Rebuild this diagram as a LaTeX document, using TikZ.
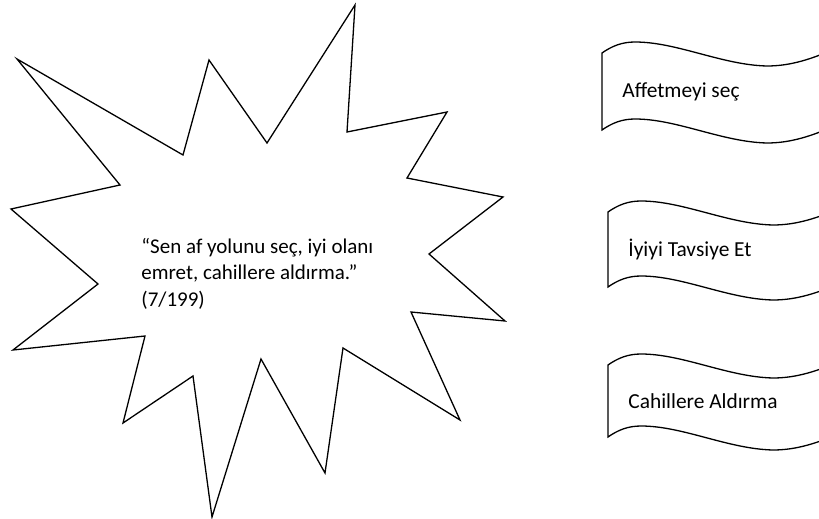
\documentclass[tikz,border=0pt]{standalone}
\usepackage{fontspec}
\setmainfont{Carlito}
\usepackage{tikz}

\begin{document}
\begin{tikzpicture}[x=0.5pt, y=-0.5pt,
    starline/.style={line width=0.65pt, line join=miter},
    bannerline/.style={line width=0.65pt},
    bannertext/.style={anchor=west, inner sep=0pt, font=\fontsize{10.7}{12.8}\selectfont}]
  % Page size (819 x 519 px, y pointing down)
  \useasboundingbox (0,0) rectangle (819,519);
  \clip (0,0) rectangle (819,519);

  % Star burst outline
  \draw[starline] (17,59) -- (183,155) -- (209,60) -- (267,143) -- (355,5)
    -- (347,132) -- (447,112) -- (407,178) -- (503,197) -- (429,254)
    -- (505,321) -- (411,312) -- (460,420) -- (343,348) -- (325,473)
    -- (261,359) -- (212,517) -- (193,376) -- (123,423) -- (145,336)
    -- (13,350) -- (98,284) -- (11,209) -- (120,185) -- cycle;

  % Quote inside the star
  \node[anchor=north west, align=left, inner sep=0pt,
        font=\fontsize{10.5}{13.2}\selectfont] (quote) at (141,238)
    {“Sen af yolunu seç, iyi olanı\\emret, cahillere aldırma.”\\(7/199)};

  % Wavy banners on the right (cut by the page edge)
  \foreach \bx/\by/\bh/\bname/\btext in {602/53/77/affet/Affetmeyi seç,
      608/212/75/tavsiye/İyiyi Tavsiye Et, 608/365/72/aldirma/Cahillere Aldırma}{
    \begin{scope}[shift={(\bx,\by)}]
      \draw[bannerline] (230,-3) .. controls (205,8) and (185,13) .. (165,13)
        .. controls (120,12) and (75,-11) .. (33,-11)
        .. controls (20,-11) and (10,-7) .. (0,0)
        -- (0,\bh)
        .. controls (10,\bh-7) and (20,\bh-11) .. (33,\bh-11)
        .. controls (75,\bh-11) and (120,\bh+12) .. (165,\bh+13)
        .. controls (185,\bh+13) and (205,\bh+8) .. (230,\bh-3);
      \node[bannertext] (\bname) at (20,\bh/2) {\btext};
    \end{scope}
  }

\end{tikzpicture}
\end{document}
